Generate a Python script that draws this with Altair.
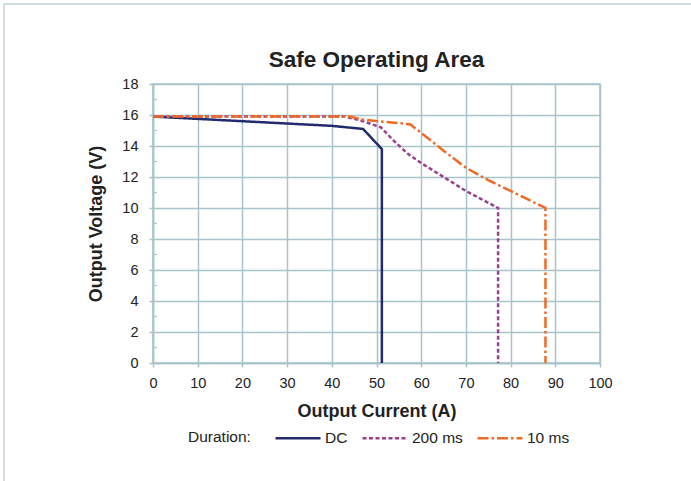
import altair as alt
import pandas as pd

# Data
dc_x = [0, 10, 20, 30, 40, 47, 51.2, 51.2]
dc_y = [15.9, 15.75, 15.6, 15.45, 15.3, 15.1, 13.8, 0]

ms200_x = [0, 43, 47, 51, 54, 57, 60, 65, 70, 77.2, 77.2]
ms200_y = [15.9, 15.9, 15.6, 15.2, 14.3, 13.5, 12.9, 12.0, 11.1, 10.0, 0]

ms10_x = [0, 44, 47, 57.5, 60, 65, 70, 75, 80, 87.8, 87.8]
ms10_y = [15.9, 15.9, 15.7, 15.4, 14.85, 13.7, 12.6, 11.8, 11.1, 10.0, 0]

series = ["DC", "200 ms", "10 ms"]
colors = ["#232a6e", "#983f8d", "#ef6a24"]
dashes = [[1, 0], [4, 2.5], [11, 3, 2.5, 3]]

x_ticks = list(range(0, 101, 10))
y_ticks = list(range(0, 19, 2))
minor_y = [1, 3, 5, 7, 9, 11, 13, 15, 17]

rows = []
for name, xs, ys in [("DC", dc_x, dc_y), ("200 ms", ms200_x, ms200_y), ("10 ms", ms10_x, ms10_y)]:
    for i, (x, y) in enumerate(zip(xs, ys)):
        rows.append({"series": name, "order": i, "current": x, "voltage": y})
df = pd.DataFrame(rows)

grid_color = "#a9c3ca"
font = "Liberation Sans"

xscale = alt.Scale(domain=[0, 100], nice=False)
yscale = alt.Scale(domain=[0, 18], nice=False)
y_axis = alt.Axis(title="Output Voltage (V)", values=y_ticks, labelOverlap=False, labelFlush=False)

lines = alt.Chart(df).mark_line(strokeWidth=2.5).encode(
    x=alt.X("current:Q", scale=xscale,
            axis=alt.Axis(title="Output Current (A)", values=x_ticks, labelOverlap=False,
                          labelFlush=False)),
    y=alt.Y("voltage:Q", scale=yscale, axis=y_axis),
    order="order:Q",
    color=alt.Color("series:N", scale=alt.Scale(domain=series, range=colors),
                    legend=alt.Legend(title="Duration:", orient="none", direction="horizontal",
                                      legendX=35, legendY=330, titleOrient="left",
                                      titleAnchor="middle", titleBaseline="top",
                                      symbolType="stroke", symbolSize=2025,
                                      symbolStrokeWidth=2.5, titlePadding=23,
                                      columnPadding=9, labelOffset=3,
                                      titleFontSize=15.5, labelFontSize=15.5,
                                      titleFontWeight="normal", titleFont=font, labelFont=font,
                                      titleColor="#222", labelColor="#222")),
    strokeDash=alt.StrokeDash("series:N", scale=alt.Scale(domain=series, range=dashes), legend=None),
)

minor = alt.Chart(pd.DataFrame({"voltage": minor_y})).mark_rule(color=grid_color, strokeWidth=1.2).encode(
    y=alt.Y("voltage:Q", scale=yscale, axis=y_axis),
    x=alt.value(0),
    x2=alt.value(4),
)

border_top = alt.Chart(pd.DataFrame({"a": [0]})).mark_rule(color="#c3cfd6", strokeWidth=1.5).encode(
    x=alt.value(-149), x2=alt.value(540), y=alt.value(-80)
)
border_left = alt.Chart(pd.DataFrame({"a": [0]})).mark_rule(color="#c3cfd6", strokeWidth=1.5).encode(
    x=alt.value(-149), y=alt.value(-80), y2=alt.value(400)
)

chart = alt.layer(border_top, border_left, minor, lines).properties(
    width=447,
    height=279,
    autosize=alt.AutoSizeParams(type="none"),
    padding={"left": 153, "top": 84, "right": 91, "bottom": 118},
    title=alt.Title("Safe Operating Area", fontSize=22.5, font=font, fontWeight="bold",
                    color="#222", offset=-68),
    background="white",
).configure_view(
    stroke=grid_color, strokeWidth=1.5
).configure_axis(
    grid=True, gridColor=grid_color, gridWidth=1.5, gridOpacity=1,
    domainColor=grid_color, domainWidth=1.5,
    tickColor=grid_color, tickSize=4, tickWidth=1.5,
    labelFont=font, labelFontSize=14.5, labelColor="#222",
    titleFont=font, titleFontSize=18, titleFontWeight="bold", titleColor="#222",
).configure_axisX(
    labelPadding=9, titlePadding=13
).configure_axisY(
    labelPadding=11, titlePadding=16
)

chart.save("out.html", embed_options={"renderer": "svg", "actions": False})
